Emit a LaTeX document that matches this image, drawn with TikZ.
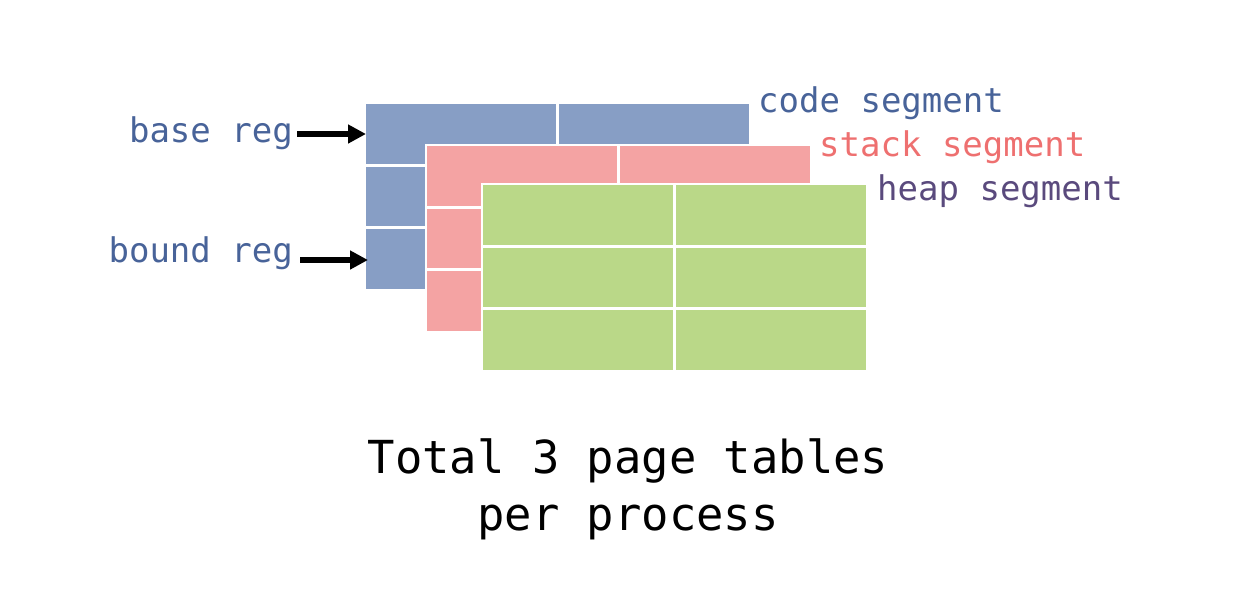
\documentclass[tikz,border=0pt]{standalone}
\usepackage{fontspec}
\setmonofont{DejaVu Sans Mono}
\usetikzlibrary{arrows.meta}
\definecolor{bluefill}{RGB}{135,158,197}
\definecolor{redfill}{RGB}{244,163,163}
\definecolor{greenfill}{RGB}{186,216,136}
\definecolor{bluetext}{RGB}{72,99,153}
\definecolor{redtext}{RGB}{238,112,112}
\definecolor{purpletext}{RGB}{90,74,125}
\tikzset{
  cell/.style={draw=white, line width=2.5pt, minimum width=192.5pt, minimum height=62.3pt, inner sep=0pt, outer sep=0pt, anchor=north west},
  lbl/.style={font=\ttfamily\fontsize{34}{40}\selectfont, inner sep=0pt},
  big/.style={font=\ttfamily\fontsize{45.5}{58}\selectfont, inner sep=0pt, align=center},
  regarrow/.style={line width=6pt, -{Triangle[length=18pt,width=18pt]}}
}
\begin{document}
\begin{tikzpicture}[x=1pt,y=-1pt]
\useasboundingbox (0,0) rectangle (1258,592);
% tables
\foreach \t/\c/\x/\y in {b/bluefill/365/103, r/redfill/426/145, g/greenfill/482/184}{
  \foreach \i in {0,1,2}{
    \foreach \j in {0,1}{
      \node[cell, fill=\c] (\t-\i-\j) at ({\x+\j*192.5},{\y+\i*62.3}) {};
    }
  }
}
% labels
\node[lbl, text=bluetext, anchor=base west] (code) at (758,112) {code segment};
\node[lbl, text=redtext, anchor=base west] (stack) at (819,156.5) {stack segment};
\node[lbl, text=purpletext, anchor=base west] (heap) at (877,200) {heap segment};
\node[lbl, text=bluetext, anchor=base east] (base) at (293,142) {base reg};
\node[lbl, text=bluetext, anchor=base east] (bound) at (293,262) {bound reg};
% arrows
\coordinate (basestart) at (297,134);
\coordinate (baseend) at (366,134);
\coordinate (boundstart) at (300,260);
\coordinate (boundend) at (368,260);
\draw[regarrow] (basestart) -- (baseend);
\draw[regarrow] (boundstart) -- (boundend);
% bottom text
\node[big, anchor=base] (total) at (628,473) {Total 3 page tables};
\node[big, anchor=base] (per) at (628,530) {per process};
\end{tikzpicture}
\end{document}
